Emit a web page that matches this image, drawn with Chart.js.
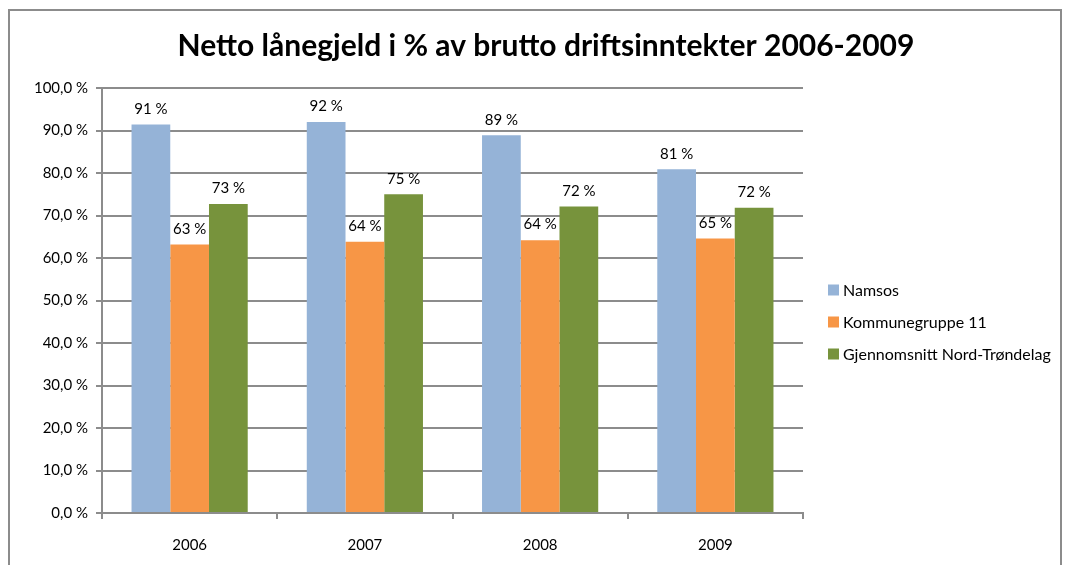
<!DOCTYPE html>
<html>
<head>
<meta charset="utf-8">
<script src="https://cdn.jsdelivr.net/npm/chart.js@4.4.0/dist/chart.umd.min.js"></script>
<style>
  html, body { margin: 0; padding: 0; background: #fff; }
  #wrap { width: 1070px; height: 565px; }
</style>
</head>
<body>
<div id="wrap"><canvas id="Bar-Chart" width="1070" height="565"></canvas></div>
<script>
let years = ['2006', '2007', '2008', '2009'];
let namsos = [91.4, 92.0, 88.9, 80.9];
let kommunegruppe = [63.2, 63.8, 64.2, 64.6];
let nordTrondelag = [72.7, 75.0, 72.1, 71.8];
let seriesNames = ['Namsos', 'Kommunegruppe 11', 'Gjennomsnitt Nord-Trøndelag'];
let colors = ['#95B3D7', '#F79646', '#77933C'];

const FONT = 'Lato, "Liberation Sans", sans-serif';
const GRID = '#8c8c8c';

// outer frame + white background
let framePlugin = {
  id: 'frame',
  beforeDraw(chart) {
    let ctx = chart.ctx;
    ctx.save();
    ctx.fillStyle = '#fff';
    ctx.fillRect(0, 0, chart.width, chart.height);
    ctx.strokeStyle = GRID;
    ctx.lineWidth = 2;
    ctx.strokeRect(9, 10, chart.width - 18, chart.height + 20);
    ctx.restore();
  },
  // centre the title over the frame, not just the plot + padding
  afterLayout(chart) {
    let t = chart.titleBlock;
    t.left = 22;
    t.right = chart.width;
    t.width = t.right - t.left;
  }
};

// value labels above each bar
let valueLabels = {
  id: 'valueLabels',
  afterDatasetsDraw(chart) {
    let ctx = chart.ctx;
    ctx.save();
    ctx.font = '15px ' + FONT;
    ctx.fillStyle = '#000';
    ctx.textAlign = 'center';
    ctx.textBaseline = 'bottom';
    chart.data.datasets.forEach((ds, i) => {
      chart.getDatasetMeta(i).data.forEach((bar, j) => {
        ctx.fillText(Math.round(ds.data[j]) + ' %', bar.x, bar.y - 8);
      });
    });
    ctx.restore();
  }
};

// legend on the right
let sideLegend = {
  id: 'sideLegend',
  afterDraw(chart) {
    let ctx = chart.ctx;
    let a = chart.chartArea;
    let x = a.right + 25;
    let gap = 32;
    let y0 = (a.top + a.bottom) / 2 + 22 - gap;
    ctx.save();
    ctx.font = '16px ' + FONT;
    ctx.textBaseline = 'middle';
    chart.data.datasets.forEach((ds, i) => {
      let y = y0 + i * gap;
      ctx.fillStyle = ds.backgroundColor;
      ctx.fillRect(x, y - 6, 11, 11);
      ctx.fillStyle = '#000';
      ctx.fillText(ds.label, x + 15, y);
    });
    ctx.restore();
  }
};

let ctx = document.getElementById('Bar-Chart').getContext('2d');

let chart = new Chart(ctx, {
  type: 'bar',
  data: {
    labels: years,
    datasets: [
      { label: seriesNames[0], data: namsos, backgroundColor: colors[0] },
      { label: seriesNames[1], data: kommunegruppe, backgroundColor: colors[1] },
      { label: seriesNames[2], data: nordTrondelag, backgroundColor: colors[2] }
    ]
  },
  options: {
    responsive: false,
    animation: false,
    layout: { padding: { left: 20, right: 267, top: 10, bottom: 0 } },
    datasets: {
      bar: { categoryPercentage: 0.663, barPercentage: 1.0 }
    },
    plugins: {
      legend: { display: false },
      tooltip: { enabled: false },
      title: {
        display: true,
        text: 'Netto lånegjeld i % av brutto driftsinntekter 2006-2009',
        color: '#000',
        font: { family: FONT, size: 30, weight: 'bold', lineHeight: 1.2 },
        padding: { top: 18, bottom: 24 }
      }
    },
    scales: {
      x: {
        afterFit(scale) { scale.height = 52; },
        grid: {
          offset: true,
          drawOnChartArea: false,
          drawTicks: true,
          tickLength: 6,
          color: GRID,
          lineWidth: 2
        },
        border: { color: GRID, width: 2 },
        ticks: { color: '#000', padding: 17, font: { family: FONT, size: 15 } }
      },
      y: {
        min: 0,
        max: 100,
        afterFit(scale) { scale.width = 82; },
        grid: { color: GRID, lineWidth: 2, tickLength: 6 },
        border: { color: GRID, width: 2 },
        ticks: {
          stepSize: 10,
          color: '#000',
          padding: 8,
          font: { family: FONT, size: 15 },
          callback: v => v.toFixed(1).replace('.', ',') + ' %'
        }
      }
    }
  },
  plugins: [framePlugin, valueLabels, sideLegend]
});
</script>
</body>
</html>
